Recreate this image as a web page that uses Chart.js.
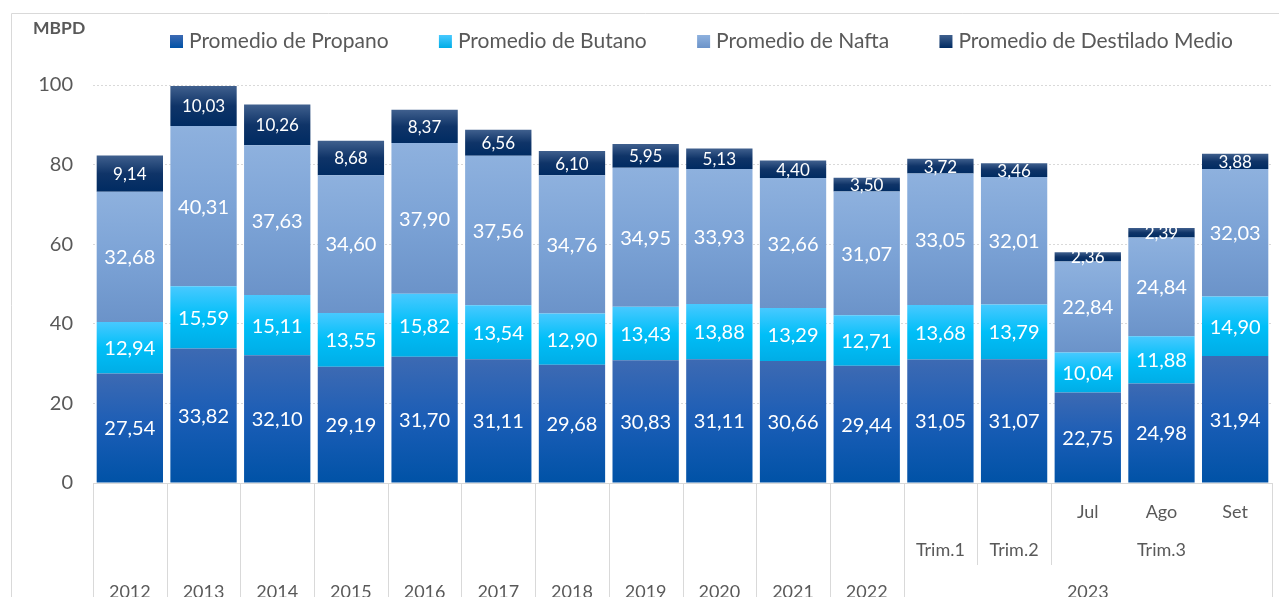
<!DOCTYPE html>
<html>
<head>
<meta charset="utf-8">
<script src="https://cdn.jsdelivr.net/npm/chart.js@4.4.1/dist/chart.umd.min.js"></script>
<style>
  html, body { margin: 0; padding: 0; background: #fff; overflow: hidden; }
  #chart { display: block; }
</style>
</head>
<body>
<canvas id="chart" width="1279" height="597"></canvas>
<script>
// datos (MBPD)
const categories = ['2012','2013','2014','2015','2016','2017','2018','2019','2020','2021','2022','Trim.1','Trim.2','Jul','Ago','Set'];
const propano   = [27.54,33.82,32.10,29.19,31.70,31.11,29.68,30.83,31.11,30.66,29.44,31.05,31.07,22.75,24.98,31.94];
const butano    = [12.94,15.59,15.11,13.55,15.82,13.54,12.90,13.43,13.88,13.29,12.71,13.68,13.79,10.04,11.88,14.90];
const nafta     = [32.68,40.31,37.63,34.60,37.90,37.56,34.76,34.95,33.93,32.66,31.07,33.05,32.01,22.84,24.84,32.03];
const destilado = [9.14,10.03,10.26,8.68,8.37,6.56,6.10,5.95,5.13,4.40,3.50,3.72,3.46,2.36,2.39,3.88];

// etiquetas del eje x en tres niveles
const monthRow   = ['','','','','','','','','','','','','','Jul','Ago','Set'];
const quarterRow = ['','','','','','','','','','','','Trim.1','Trim.2','Trim.3','Trim.3','Trim.3'];
const yearRow    = ['2012','2013','2014','2015','2016','2017','2018','2019','2020','2021','2022','2023','2023','2023','2023','2023'];

const yTicks = [0, 20, 40, 60, 80, 100];

const FONT = 'Lato, "Open Sans", sans-serif';
const TEXT = '#595959';

// colores de degradado (arriba -> abajo)
const shades = [
  ['#3d6ab3', '#1a5db6', '#0052a6'],
  ['#48c9ff', '#00bff8', '#00ade6'],
  ['#8eb1de', '#7ca3d6', '#6b93c9'],
  ['#40608e', '#0f3468', '#002b62']
];

const series = [propano, butano, nafta, destilado];

function barGradient(ctx) {
  const chart = ctx.chart;
  const pal = shades[ctx.datasetIndex];
  const y = chart.scales.y;
  if (!chart.chartArea || !y || ctx.dataIndex === undefined) return pal[1];
  let base = 0;
  for (let d = 0; d < ctx.datasetIndex; d++) base += series[d][ctx.dataIndex];
  const top = base + series[ctx.datasetIndex][ctx.dataIndex];
  const y0 = y.getPixelForValue(top), y1 = y.getPixelForValue(base);
  if (!isFinite(y0) || !isFinite(y1) || y0 === y1) return pal[1];
  const g = chart.ctx.createLinearGradient(0, y0, 0, y1);
  g.addColorStop(0, pal[0]);
  g.addColorStop(0.5, pal[1]);
  g.addColorStop(1, pal[2]);
  return g;
}

function fmt(v) { return v.toFixed(2).replace('.', ','); }

// marco, titulo del eje y leyenda
const frame = {
  id: 'frame',
  beforeDraw(chart) {
    const c = chart.ctx;
    c.save();
    c.strokeStyle = '#d9d9d9';
    c.lineWidth = 1;
    c.beginPath();
    c.moveTo(11.5, chart.height);
    c.lineTo(11.5, 13.5);
    c.lineTo(chart.width, 13.5);
    c.stroke();
    c.restore();
  },
  afterDraw(chart) {
    const c = chart.ctx;
    c.save();
    c.fillStyle = TEXT;
    c.font = 'bold 17.5px ' + FONT;
    c.textBaseline = 'middle';
    c.textAlign = 'left';
    c.fillText('MBPD', 33, 28);

    // leyenda
    c.font = '21px ' + FONT;
    const names = chart.data.datasets.map(d => d.label);
    const widths = names.map(n => c.measureText(n).width);
    const startX = 170, endX = 1233, box = 13, gapText = 6;
    const used = widths.reduce((a, w) => a + w + box + gapText, 0);
    const gap = (endX - startX - used) / (names.length - 1);
    let x = startX;
    names.forEach((n, i) => {
      const pal = shades[i];
      const g = c.createLinearGradient(0, 35, 0, 48);
      g.addColorStop(0, pal[0]); g.addColorStop(1, pal[2]);
      c.fillStyle = g;
      c.fillRect(x, 35, box, box);
      c.fillStyle = TEXT;
      c.fillText(n, x + box + gapText, 41);
      x += box + gapText + widths[i] + gap;
    });
    c.restore();
  }
};

// etiquetas de datos
const dataLabels = {
  id: 'dataLabels',
  afterDatasetsDraw(chart) {
    const c = chart.ctx;
    c.save();
    c.fillStyle = '#ffffff';
    c.textAlign = 'center';
    c.textBaseline = 'middle';
    chart.data.datasets.forEach((ds, di) => {
      const meta = chart.getDatasetMeta(di);
      c.font = (di === 3 ? '17px ' : '20px ') + FONT;
      meta.data.forEach((el, i) => {
        const v = ds.data[i];
        c.fillText(fmt(v), el.x, (el.y + el.base) / 2 + 1);
      });
    });
    c.restore();
  }
};

// eje x jerarquico
const multiAxis = {
  id: 'multiAxis',
  afterDraw(chart) {
    const c = chart.ctx;
    const xs = chart.scales.x;
    const area = chart.chartArea;
    const n = categories.length;
    const step = xs.getPixelForValue(1) - xs.getPixelForValue(0);
    const edge = k => xs.getPixelForValue(0) - step / 2 + k * step;
    c.save();
    c.strokeStyle = '#d9d9d9';
    c.lineWidth = 1;
    for (let k = 0; k <= n; k++) {
      let bottom = null;
      if (k === 0 || k === n || yearRow[k - 1] !== yearRow[k]) bottom = chart.height;
      else if (quarterRow[k - 1] !== quarterRow[k]) bottom = 565;
      if (bottom === null) continue;
      const px = Math.round(edge(k)) + 0.5;
      c.beginPath();
      c.moveTo(px, area.bottom);
      c.lineTo(px, bottom);
      c.stroke();
    }
    c.fillStyle = TEXT;
    c.font = '18px ' + FONT;
    c.textAlign = 'center';
    c.textBaseline = 'middle';
    const rows = [[monthRow, 512], [quarterRow, 550], [yearRow, 592]];
    rows.forEach(([row, ty]) => {
      let i = 0;
      while (i < n) {
        let j = i;
        while (j + 1 < n && row[j + 1] === row[i]) j++;
        if (row[i]) c.fillText(row[i], (edge(i) + edge(j + 1)) / 2, ty);
        i = j + 1;
      }
    });
    c.restore();
  }
};

const ctx = document.getElementById('chart');
new Chart(ctx, {
  type: 'bar',
  data: {
    labels: categories,
    datasets: [
      { label: 'Promedio de Propano', data: propano },
      { label: 'Promedio de Butano', data: butano },
      { label: 'Promedio de Nafta', data: nafta },
      { label: 'Promedio de Destilado Medio', data: destilado }
    ].map(d => Object.assign(d, {
      backgroundColor: barGradient,
      borderWidth: 0,
      barPercentage: 0.9,
      categoryPercentage: 1.0
    }))
  },
  options: {
    responsive: false,
    animation: false,
    devicePixelRatio: 1,
    layout: { padding: { top: 85, left: 10, right: 7, bottom: 0 } },
    plugins: {
      legend: { display: false },
      tooltip: { enabled: false }
    },
    scales: {
      x: {
        stacked: true,
        grid: { display: false },
        border: { display: true, color: '#d9d9d9', width: 1 },
        ticks: { display: false },
        afterFit(s) { s.height = 114; }
      },
      y: {
        stacked: true,
        min: 0,
        max: 100,
        afterBuildTicks(s) { s.ticks = yTicks.map(v => ({ value: v })); },
        grid: { color: '#d9d9d9', drawTicks: false },
        border: { display: false, dash: [2, 2] },
        ticks: {
          color: TEXT,
          font: { family: FONT, size: 20 },
          padding: 20
        },
        afterFit(s) { s.width = 83; }
      }
    }
  },
  plugins: [frame, dataLabels, multiAxis]
});
</script>
</body>
</html>
